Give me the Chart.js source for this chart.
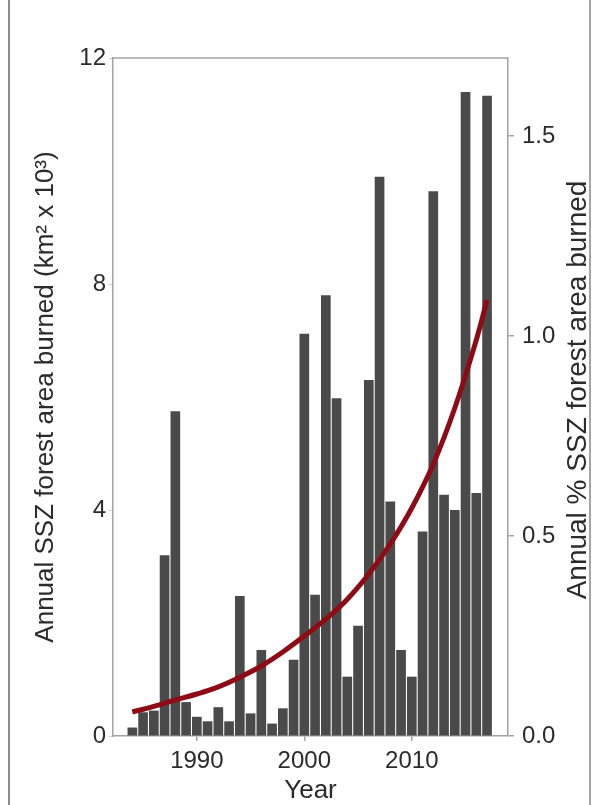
<!DOCTYPE html>
<html>
<head>
<meta charset="utf-8">
<script src="https://cdn.jsdelivr.net/npm/chart.js@4/dist/chart.umd.min.js"></script>
<style>
  html, body { margin: 0; padding: 0; background: #fff; }
  #wrap { position: relative; width: 596px; height: 805px; overflow: hidden; }
  #wrap canvas { position: absolute; left: 0; top: 0; }
  .edge { position: absolute; top: 0; width: 0; height: 805px; }
  #edgeL { left: 8px; border-left: 2px solid #8c8c8c; }
  #edgeR { left: 589px; border-left: 2px solid #a5a5a5; }
</style>
</head>
<body>
<div id="wrap">
  <canvas id="chart" width="596" height="805"></canvas>
  <div class="edge" id="edgeL"></div>
  <div class="edge" id="edgeR"></div>
</div>
<script>
// Annual burned area in the SSZ forest, 1984-2017
const years = [1984, 1985, 1986, 1987, 1988, 1989, 1990, 1991, 1992, 1993,
               1994, 1995, 1996, 1997, 1998, 1999, 2000, 2001, 2002, 2003,
               2004, 2005, 2006, 2007, 2008, 2009, 2010, 2011, 2012, 2013,
               2014, 2015, 2016, 2017];
// km^2 x 10^3
const areaBurned = [0.15, 0.42, 0.45, 3.2, 5.75, 0.6, 0.34, 0.26, 0.51, 0.26,
                    2.48, 0.4, 1.52, 0.22, 0.49, 1.35, 7.12, 2.5, 7.8, 5.98,
                    1.05, 1.95, 6.3, 9.9, 4.15, 1.52, 1.05, 3.62, 9.64, 4.27,
                    4.0, 11.4, 4.3, 11.33];
// fitted trend, annual % of SSZ forest area burned
const trendYears = [1984, 1986, 1988, 1990, 1992, 1994, 1996, 1998, 2000, 2002,
                    2004, 2006, 2008, 2010, 2012, 2014, 2016, 2017];
const trendPct   = [0.06, 0.074, 0.09, 0.105, 0.123, 0.147, 0.175, 0.21, 0.25, 0.292,
                    0.342, 0.405, 0.48, 0.57, 0.68, 0.82, 0.99, 1.09];
// axis ticks
const xTickYears = [1990, 2000, 2010];
const leftTicks  = [0, 4, 8, 12];
const rightTicks = [0, 0.5, 1.0, 1.5];

const FONT = '"Liberation Sans", Arial, Helvetica, sans-serif';
const axisGrey = '#a3a3a3';
const textDark = '#2b2b2b';
const rightTitle = 'Annual % SSZ forest area burned';

// top edge of the plot box and the upward-reading right-hand title
const boxAndRightTitle = {
  id: 'boxAndRightTitle',
  afterDraw(chart) {
    const { ctx, chartArea: a } = chart;
    ctx.save();
    ctx.strokeStyle = axisGrey;
    ctx.lineWidth = 1.5;
    ctx.beginPath();
    ctx.moveTo(a.left, a.top);
    ctx.lineTo(a.right, a.top);
    ctx.stroke();
    ctx.translate(chart.width - 18, (a.top + a.bottom) / 2 - 7);
    ctx.rotate(-Math.PI / 2);
    ctx.font = '28px ' + FONT;
    ctx.fillStyle = textDark;
    ctx.textAlign = 'center';
    ctx.textBaseline = 'middle';
    ctx.fillText(rightTitle, 0, 0);
    ctx.restore();
  }
};

new Chart(document.getElementById('chart'), {
  type: 'bar',
  data: {
    datasets: [
      {
        type: 'line',
        label: 'Trend',
        data: trendYears.map((y, i) => ({ x: y, y: trendPct[i] })),
        xAxisID: 'x',
        yAxisID: 'y2',
        borderColor: '#8e0b16',
        borderWidth: 5,
        pointRadius: 0,
        tension: 0.4,
        order: 0
      },
      {
        label: 'Area burned',
        data: years.map((y, i) => ({ x: y, y: areaBurned[i] })),
        xAxisID: 'x',
        yAxisID: 'y',
        backgroundColor: '#4a4a4a',
        borderWidth: 0,
        barPercentage: 0.9,
        categoryPercentage: 1.0,
        order: 1
      }
    ]
  },
  options: {
    responsive: false,
    animation: false,
    layout: { padding: { top: 58, left: 0, right: 0, bottom: 0 } },
    plugins: { legend: { display: false }, tooltip: { enabled: false } },
    scales: {
      x: {
        type: 'linear',
        min: 1982.2,
        max: 2018.95,
        offset: false,
        afterBuildTicks: s => { s.ticks = xTickYears.map(v => ({ value: v })); },
        afterFit: s => { s.height = 69; },
        ticks: {
          autoSkip: false, maxRotation: 0, padding: 6,
          color: textDark, font: { family: FONT, size: 24 },
          callback: v => String(v)
        },
        grid: { display: true, drawOnChartArea: false, offset: false, tickLength: 5, color: axisGrey, lineWidth: 1.5 },
        border: { display: true, color: axisGrey, width: 1.5 },
        title: { display: true, text: 'Year', color: textDark, font: { family: FONT, size: 26 }, padding: { top: 0, bottom: -1 } }
      },
      y: {
        position: 'left',
        min: 0,
        max: 12,
        afterBuildTicks: s => { s.ticks = leftTicks.map(v => ({ value: v })); },
        afterFit: s => { s.width = 113; },
        ticks: { padding: 3, color: textDark, font: { family: FONT, size: 24 } },
        grid: { display: true, drawOnChartArea: false, tickLength: 4, color: '#d0d0d0', lineWidth: 1 },
        border: { display: true, color: axisGrey, width: 1.5 },
        title: {
          display: true,
          text: 'Annual SSZ forest area burned (km² x 10³)',
          color: textDark,
          font: { family: FONT, size: 26 },
          padding: { top: 30, bottom: 0 }
        }
      },
      y2: {
        position: 'right',
        min: 0,
        max: 1.695,
        afterBuildTicks: s => { s.ticks = rightTicks.map(v => ({ value: v })); },
        afterFit: s => { s.width = 88; },
        ticks: { padding: 8, color: textDark, font: { family: FONT, size: 24 }, callback: v => Number(v).toFixed(1) },
        grid: { display: true, drawOnChartArea: false, tickLength: 6, color: axisGrey, lineWidth: 1.5 },
        border: { display: true, color: axisGrey, width: 1.5 }
      }
    }
  },
  plugins: [boxAndRightTitle]
});
</script>
</body>
</html>
